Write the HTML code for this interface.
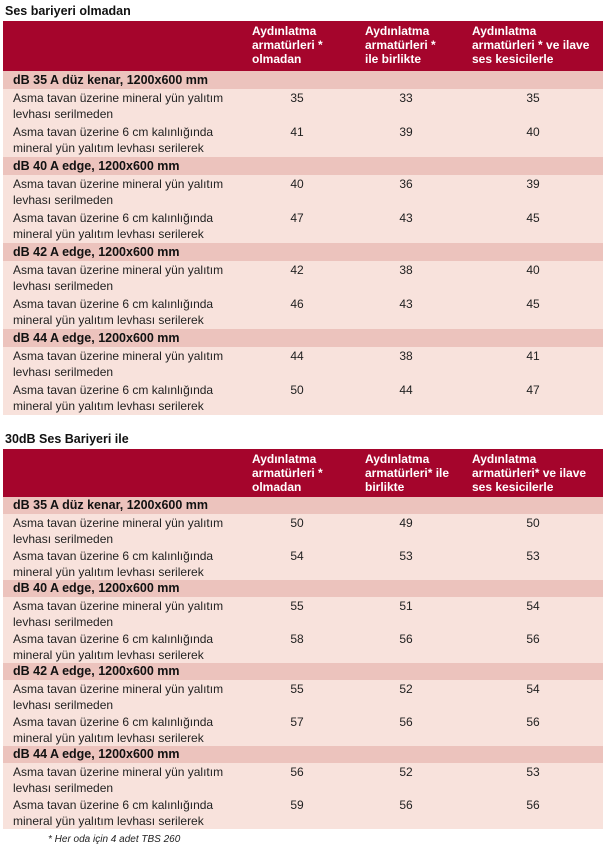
<!DOCTYPE html>
<html><head><meta charset="utf-8"><style>
body{margin:0;width:609px;height:851px;background:#fff;font-family:"Liberation Sans","DejaVu Sans",sans-serif;font-size:12px;color:#222;position:relative;overflow:hidden}
.t{position:absolute;left:5px;font-weight:bold;font-size:12.5px;color:#111}
.tb{position:absolute;left:3px;width:600px}
.h{height:50px;background:#a5052c;color:#fff;font-weight:bold;position:relative}
.h div{position:absolute;top:3px;line-height:14px}
.s{height:18px;background:#ecc3bd;font-weight:bold;font-size:12.5px;line-height:18px;padding-left:10px;color:#111}
.d{height:34px;background:#f8e2dc;position:relative;line-height:16px}
.d .l{position:absolute;left:10px;top:1px}
.d .v{position:absolute;top:1px;width:30px;text-align:center}
.tb2 .s{height:17px;line-height:17px}
.tb2 .d{height:33px}
.fn{position:absolute;left:48px;top:834px;font-style:italic;font-size:10px;color:#222}
</style></head><body>
<div class="t" style="top:4px">Ses bariyeri olmadan</div>
<div class="tb" style="top:21px">
<div class="h"><div style="left:249px">Aydınlatma<br>armatürleri *<br>olmadan</div><div style="left:362px">Aydınlatma<br>armatürleri *<br>ile birlikte</div><div style="left:469px">Aydınlatma<br>armatürleri * ve ilave<br>ses kesicilerle</div></div>
<div class="s">dB 35 A düz kenar, 1200x600 mm</div>
<div class="d"><div class="l">Asma tavan üzerine mineral yün yalıtım<br>levhası serilmeden</div><div class="v" style="left:279px">35</div><div class="v" style="left:388px">33</div><div class="v" style="left:515px">35</div></div>
<div class="d"><div class="l">Asma tavan üzerine 6 cm kalınlığında<br>mineral yün yalıtım levhası serilerek</div><div class="v" style="left:279px">41</div><div class="v" style="left:388px">39</div><div class="v" style="left:515px">40</div></div>
<div class="s">dB 40 A edge, 1200x600 mm</div>
<div class="d"><div class="l">Asma tavan üzerine mineral yün yalıtım<br>levhası serilmeden</div><div class="v" style="left:279px">40</div><div class="v" style="left:388px">36</div><div class="v" style="left:515px">39</div></div>
<div class="d"><div class="l">Asma tavan üzerine 6 cm kalınlığında<br>mineral yün yalıtım levhası serilerek</div><div class="v" style="left:279px">47</div><div class="v" style="left:388px">43</div><div class="v" style="left:515px">45</div></div>
<div class="s">dB 42 A edge, 1200x600 mm</div>
<div class="d"><div class="l">Asma tavan üzerine mineral yün yalıtım<br>levhası serilmeden</div><div class="v" style="left:279px">42</div><div class="v" style="left:388px">38</div><div class="v" style="left:515px">40</div></div>
<div class="d"><div class="l">Asma tavan üzerine 6 cm kalınlığında<br>mineral yün yalıtım levhası serilerek</div><div class="v" style="left:279px">46</div><div class="v" style="left:388px">43</div><div class="v" style="left:515px">45</div></div>
<div class="s">dB 44 A edge, 1200x600 mm</div>
<div class="d"><div class="l">Asma tavan üzerine mineral yün yalıtım<br>levhası serilmeden</div><div class="v" style="left:279px">44</div><div class="v" style="left:388px">38</div><div class="v" style="left:515px">41</div></div>
<div class="d"><div class="l">Asma tavan üzerine 6 cm kalınlığında<br>mineral yün yalıtım levhası serilerek</div><div class="v" style="left:279px">50</div><div class="v" style="left:388px">44</div><div class="v" style="left:515px">47</div></div>
</div>

<div class="t" style="top:432px">30dB Ses Bariyeri ile</div>
<div class="tb tb2" style="top:449px">
<div class="h" style="height:48px"><div style="left:249px">Aydınlatma<br>armatürleri *<br>olmadan</div><div style="left:362px">Aydınlatma<br>armatürleri* ile<br>birlikte</div><div style="left:469px">Aydınlatma<br>armatürleri* ve ilave<br>ses kesicilerle</div></div>
<div class="s">dB 35 A düz kenar, 1200x600 mm</div>
<div class="d"><div class="l">Asma tavan üzerine mineral yün yalıtım<br>levhası serilmeden</div><div class="v" style="left:279px">50</div><div class="v" style="left:388px">49</div><div class="v" style="left:515px">50</div></div>
<div class="d"><div class="l">Asma tavan üzerine 6 cm kalınlığında<br>mineral yün yalıtım levhası serilerek</div><div class="v" style="left:279px">54</div><div class="v" style="left:388px">53</div><div class="v" style="left:515px">53</div></div>
<div class="s">dB 40 A edge, 1200x600 mm</div>
<div class="d"><div class="l">Asma tavan üzerine mineral yün yalıtım<br>levhası serilmeden</div><div class="v" style="left:279px">55</div><div class="v" style="left:388px">51</div><div class="v" style="left:515px">54</div></div>
<div class="d"><div class="l">Asma tavan üzerine 6 cm kalınlığında<br>mineral yün yalıtım levhası serilerek</div><div class="v" style="left:279px">58</div><div class="v" style="left:388px">56</div><div class="v" style="left:515px">56</div></div>
<div class="s">dB 42 A edge, 1200x600 mm</div>
<div class="d"><div class="l">Asma tavan üzerine mineral yün yalıtım<br>levhası serilmeden</div><div class="v" style="left:279px">55</div><div class="v" style="left:388px">52</div><div class="v" style="left:515px">54</div></div>
<div class="d"><div class="l">Asma tavan üzerine 6 cm kalınlığında<br>mineral yün yalıtım levhası serilerek</div><div class="v" style="left:279px">57</div><div class="v" style="left:388px">56</div><div class="v" style="left:515px">56</div></div>
<div class="s">dB 44 A edge, 1200x600 mm</div>
<div class="d"><div class="l">Asma tavan üzerine mineral yün yalıtım<br>levhası serilmeden</div><div class="v" style="left:279px">56</div><div class="v" style="left:388px">52</div><div class="v" style="left:515px">53</div></div>
<div class="d"><div class="l">Asma tavan üzerine 6 cm kalınlığında<br>mineral yün yalıtım levhası serilerek</div><div class="v" style="left:279px">59</div><div class="v" style="left:388px">56</div><div class="v" style="left:515px">56</div></div>
</div>
<div class="fn">* Her oda için 4 adet TBS 260</div>
</body></html>
